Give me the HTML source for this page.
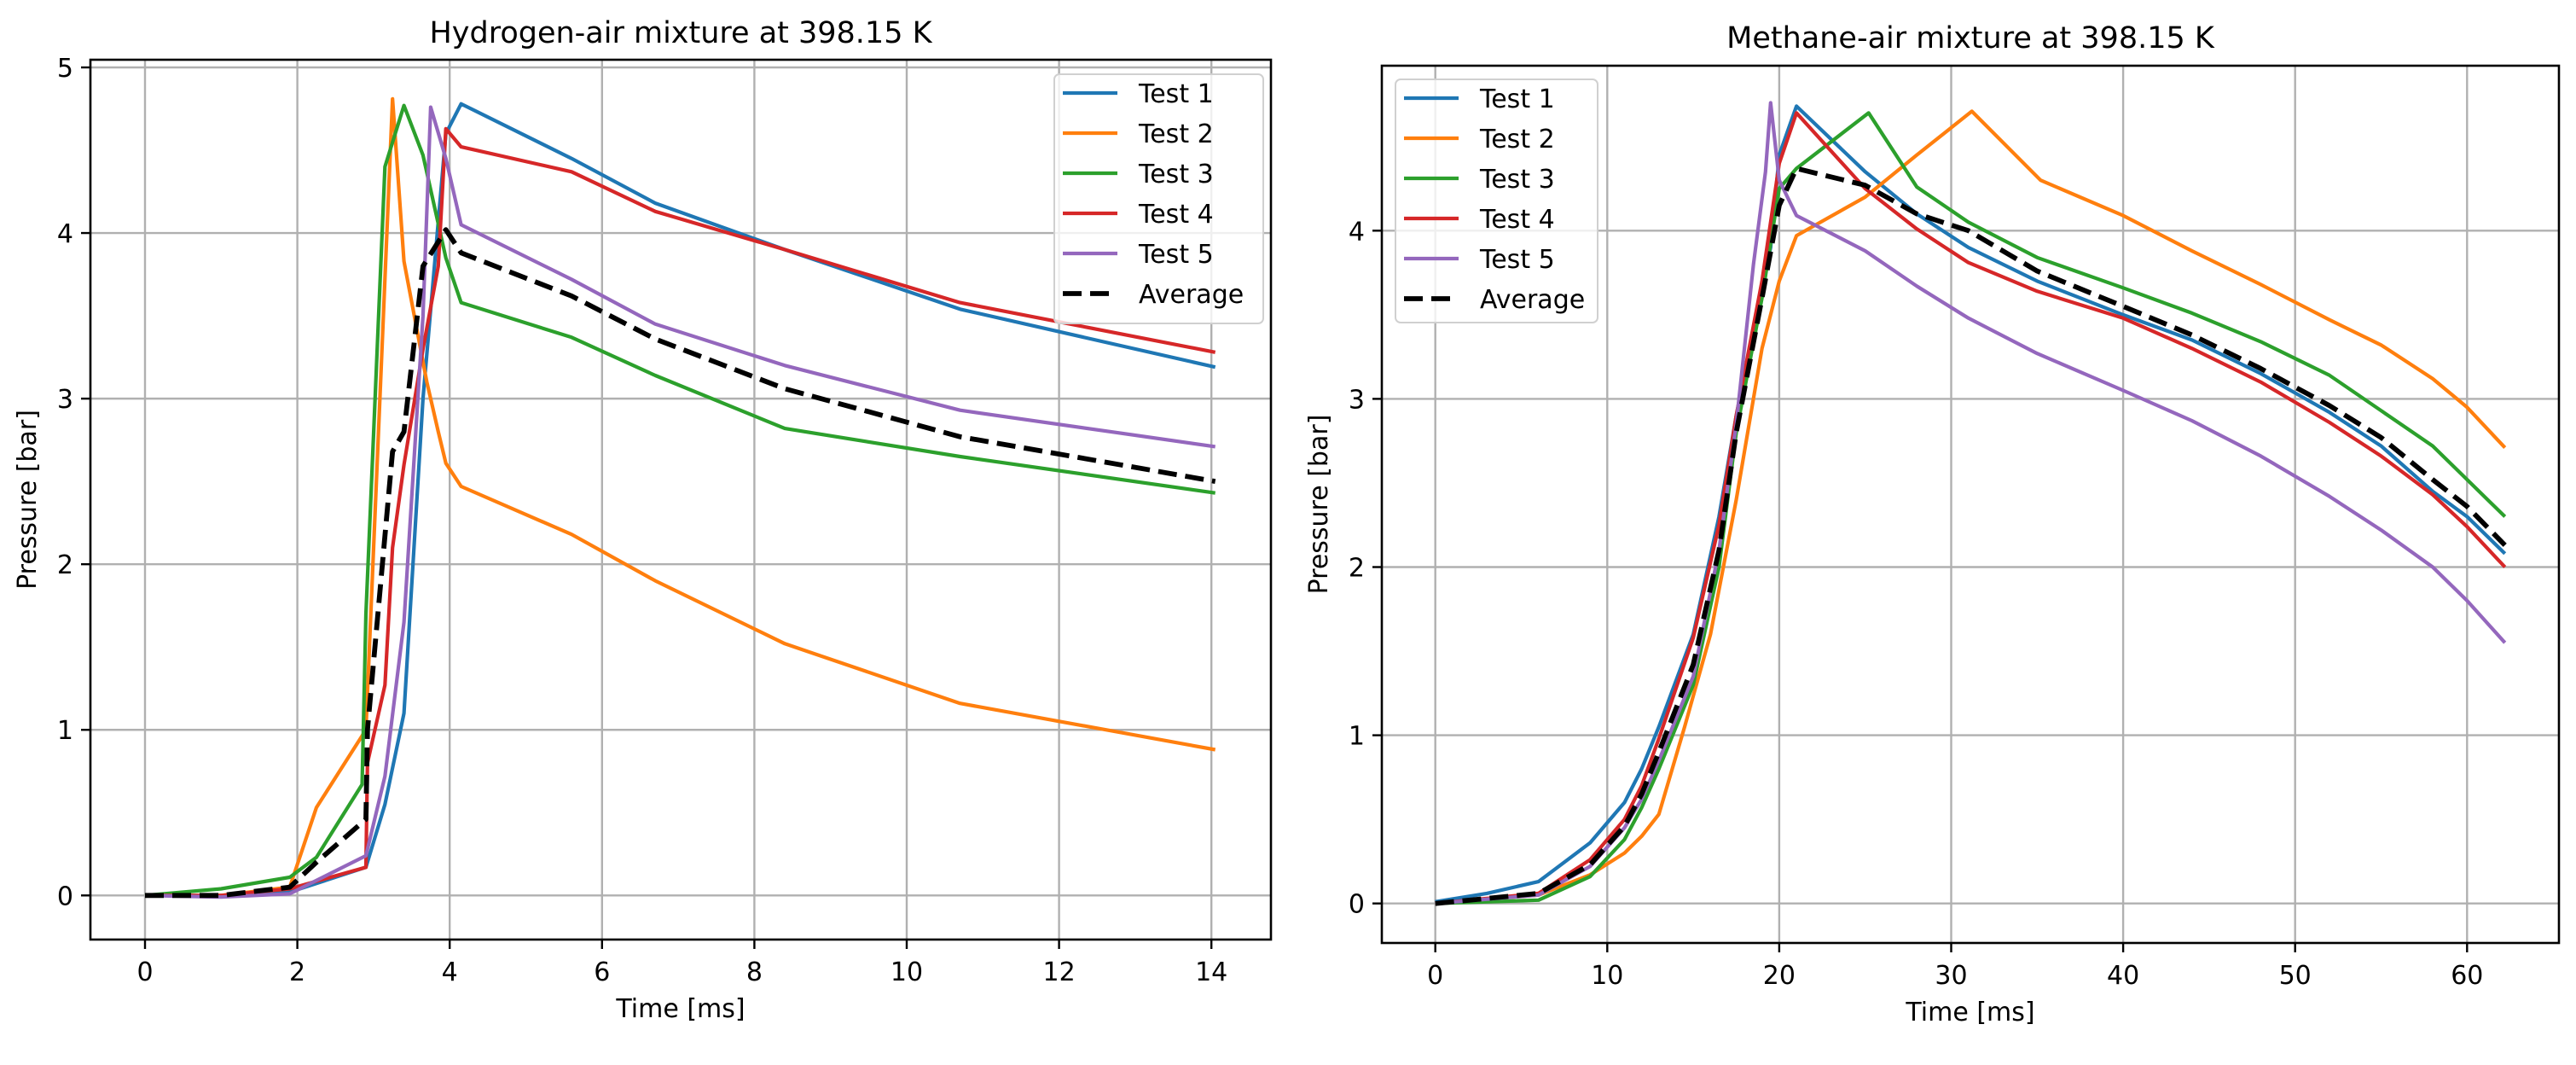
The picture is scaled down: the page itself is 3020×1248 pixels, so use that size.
<!DOCTYPE html>
<html><head><meta charset="utf-8"><style>
html,body{margin:0;padding:0;background:#fff;}
svg{display:block;font-family:"DejaVu Sans","Liberation Sans",sans-serif;}
</style></head><body>
<svg id="fig" width="3020" height="1248" viewBox="0 0 3020 1248" xmlns="http://www.w3.org/2000/svg"></svg>
<script>
// ---- Hydrogen chart data ----
const h2Series = ["Test 1","Test 2","Test 3","Test 4","Test 5","Average"];
const h2T1x = [0,1,1.9,2.9,3.15,3.4,3.65,3.95,4.15,5.6,6.7,8.4,10.7,14.05];
const h2T1y = [0,0,0.02,0.17,0.55,1.1,3.0,4.6,4.78,4.45,4.18,3.9,3.54,3.19];
const h2T2x = [0,1,1.9,2.25,2.9,3.25,3.4,3.7,3.85,3.95,4.15,5.6,6.7,8.4,10.7,14.05];
const h2T2y = [0,0,0.05,0.53,1.0,4.81,3.83,3.1,2.8,2.61,2.47,2.18,1.9,1.52,1.16,0.88];
const h2T3x = [0,1,1.9,2.25,2.85,2.9,3.15,3.4,3.65,3.95,4.15,5.6,6.7,8.4,10.7,14.05];
const h2T3y = [0,0.04,0.11,0.23,0.67,1.7,4.4,4.77,4.47,3.85,3.58,3.37,3.14,2.82,2.65,2.43];
const h2T4x = [0,1,1.9,2.9,2.92,3.15,3.25,3.4,3.65,3.85,3.95,4.15,5.6,6.7,8.4,10.7,14.05];
const h2T4y = [0,0,0.04,0.17,0.8,1.27,2.1,2.6,3.3,3.8,4.63,4.52,4.37,4.13,3.9,3.58,3.28];
const h2T5x = [0,1,1.9,2.9,3.15,3.4,3.65,3.75,3.95,4.15,5.6,6.7,8.4,10.7,14.05];
const h2T5y = [0,-0.01,0.01,0.24,0.72,1.65,3.5,4.76,4.45,4.05,3.72,3.45,3.2,2.93,2.71];
const h2Avx = [0,1,1.9,2.25,2.9,2.92,3.25,3.4,3.65,3.95,4.15,5.6,6.7,8.4,10.7,14.05];
const h2Avy = [0,0,0.05,0.2,0.46,1.0,2.68,2.8,3.8,4.02,3.88,3.62,3.36,3.06,2.77,2.5];
const h2XTicks = [0,2,4,6,8,10,12,14];
const h2YTicks = [0,1,2,3,4,5];
// ---- Methane chart data ----
const chT1x = [0,3,6,9,11,12,13,15,16.5,17.5,19.5,20,21,25,28,31,35,40,44,48,52,55,58,60,62.2];
const chT1y = [0.01,0.06,0.13,0.36,0.6,0.8,1.05,1.6,2.3,2.9,3.9,4.45,4.74,4.35,4.1,3.9,3.7,3.5,3.35,3.15,2.92,2.72,2.45,2.3,2.08];
const chT2x = [0,6,9,11,12,13,14.5,16,17.5,19,20,21,25,28,31.2,35.2,40,44,48,52,55,58,60,62.2];
const chT2y = [0,0.05,0.17,0.3,0.4,0.53,1.05,1.6,2.4,3.3,3.7,3.97,4.2,4.45,4.71,4.3,4.09,3.88,3.68,3.47,3.32,3.12,2.95,2.71];
const chT3x = [0,6,9,11,12,13,15,16.5,17.5,19,20,21,25.2,28,31,35,40,44,48,52,55,58,60,62.2];
const chT3y = [0,0.02,0.16,0.38,0.57,0.8,1.3,2.0,2.8,3.6,4.25,4.37,4.7,4.26,4.05,3.84,3.66,3.51,3.34,3.14,2.93,2.72,2.52,2.3];
const chT4x = [0,6,9,11,12,13,15,16.5,17.5,19,20,21,25,28,31,35,40,44,48,52,55,58,60,62.2];
const chT4y = [0,0.06,0.26,0.5,0.7,0.98,1.58,2.25,2.9,3.7,4.4,4.7,4.25,4.01,3.81,3.64,3.48,3.3,3.1,2.86,2.66,2.43,2.24,2.0];
const chT5x = [0,6,9,11,12,13,15,16.5,17.5,18.5,19.2,19.5,20,21,25,28,31,35,40,44,48,52,55,58,60,62.2];
const chT5y = [0,0.05,0.22,0.45,0.62,0.85,1.35,2.1,2.85,3.8,4.35,4.76,4.3,4.09,3.88,3.67,3.48,3.27,3.05,2.87,2.66,2.42,2.22,2.0,1.8,1.55];
const chAvx = [0,6,9,11,12,13,15,16.5,17.5,19,20,21,25,28,31,35,40,44,48,52,55,58,60,62.2];
const chAvy = [0,0.06,0.23,0.46,0.65,0.9,1.42,2.1,2.8,3.6,4.15,4.37,4.27,4.1,4.0,3.76,3.55,3.38,3.18,2.96,2.77,2.52,2.36,2.13];
const chXTicks = [0,10,20,30,40,50,60];
const chYTicks = [0,1,2,3,4];

const colors = ["#1f77b4","#ff7f0e","#2ca02c","#d62728","#9467bd","#000000"];
const NS = "http://www.w3.org/2000/svg";
const fig = document.getElementById('fig');
function mk(tag, attrs, parent){const e=document.createElementNS(NS,tag);for(const k in attrs)e.setAttribute(k,attrs[k]);(parent||fig).appendChild(e);return e;}

function drawChart(cfg){
  const g = mk('g',{});
  
  
  const X = v => cfg.x0px + v * cfg.xs;
  const Y = v => cfg.y0px - v * cfg.ys;
  cfg.xticks.forEach(t=>{
    const l = mk('line',{x1:X(t),x2:X(t),y1:cfg.top,y2:cfg.bottom,stroke:'#b0b0b0','stroke-width':2.4},g);
    
    
    mk('line',{x1:X(t),x2:X(t),y1:cfg.bottom,y2:cfg.bottom+11,stroke:'#000','stroke-width':2.4},g);
    const tx = mk('text',{x:X(t),y:cfg.bottom+48,'text-anchor':'middle','font-size':30,fill:'#000'},g);
    tx.textContent = t;
    
    
  });
  cfg.yticks.forEach(t=>{
    const l = mk('line',{x1:cfg.left,x2:cfg.right,y1:Y(t),y2:Y(t),stroke:'#b0b0b0','stroke-width':2.4},g);
    
    
    mk('line',{x1:cfg.left-11,x2:cfg.left,y1:Y(t),y2:Y(t),stroke:'#000','stroke-width':2.4},g);
    const tx = mk('text',{x:cfg.left-20,y:Y(t)+11,'text-anchor':'end','font-size':30,fill:'#000'},g);
    tx.textContent = t;
    
    
  });
  cfg.series.forEach((s,i)=>{
    const pts = s.x.map((xv,j)=>X(xv).toFixed(1)+','+Y(s.y[j]).toFixed(1)).join(' ');
    const p = mk('polyline',{points:pts,fill:'none',stroke:colors[i],'stroke-width':i==5?5.8:4.2,'stroke-linejoin':'round'},g);
    if(i==5) p.setAttribute('stroke-dasharray','22 10');
    
    
  });
  const fr = mk('rect',{x:cfg.left,y:cfg.top,width:cfg.right-cfg.left,height:cfg.bottom-cfg.top,fill:'none',stroke:'#000','stroke-width':2.6},g);
  
  
  const ti = mk('text',{x:(cfg.left+cfg.right)/2,y:cfg.titleY,'text-anchor':'middle','font-size':35,fill:'#000'},g);
  ti.textContent = cfg.title;
  
  
  const xl = mk('text',{x:(cfg.left+cfg.right)/2,y:cfg.xlabY,'text-anchor':'middle','font-size':30,fill:'#000'},g);
  xl.textContent = 'Time [ms]';
  
  
  const yl = mk('text',{x:0,y:0,'text-anchor':'middle','font-size':30,fill:'#000',transform:`translate(${cfg.ylabX},${(cfg.top+cfg.bottom)/2}) rotate(-90)`},g);
  yl.textContent = 'Pressure [bar]';
  
  
  const L = cfg.legend;
  const lg = mk('g',{},g);
  
  
  mk('rect',{x:L.x,y:L.y,width:L.w,height:L.h,rx:6,fill:'rgba(255,255,255,0.8)',stroke:'#d0d0d0','stroke-width':2},lg);
  h2Series.forEach((name,i)=>{
    const yy = L.y + 22 + i*47;
    const ln = mk('line',{x1:L.x+10,x2:L.x+74,y1:yy,y2:yy,stroke:colors[i],'stroke-width':i==5?5.8:4.2},lg);
    if(i==5) ln.setAttribute('stroke-dasharray','22 10');
    
    
    const t = mk('text',{x:L.x+99,y:yy+11,'font-size':30,fill:'#000'},lg);
    t.textContent = name;
    
    
  });
}

drawChart({name:'hydrogen-chart',left:106,right:1490,top:70,bottom:1101,x0px:170,xs:89.3,y0px:1049.3,ys:194.06,
  xticks:h2XTicks,yticks:h2YTicks,title:'Hydrogen-air mixture at 398.15 K',titleY:50,xlabY:1192,ylabX:42,
  legend:{x:1236,y:87,w:245,h:292},
  series:[{x:h2T1x,y:h2T1y},{x:h2T2x,y:h2T2y},{x:h2T3x,y:h2T3y},{x:h2T4x,y:h2T4y},{x:h2T5x,y:h2T5y},{x:h2Avx,y:h2Avy}]});
drawChart({name:'methane-chart',left:1620,right:3000,top:77,bottom:1105,x0px:1682.7,xs:20.16,y0px:1058.7,ys:197.1,
  xticks:chXTicks,yticks:chYTicks,title:'Methane-air mixture at 398.15 K',titleY:56,xlabY:1196,ylabX:1556,
  legend:{x:1636,y:93,w:237,h:285},
  series:[{x:chT1x,y:chT1y},{x:chT2x,y:chT2y},{x:chT3x,y:chT3y},{x:chT4x,y:chT4y},{x:chT5x,y:chT5y},{x:chAvx,y:chAvy}]});
</script>
</body></html>
